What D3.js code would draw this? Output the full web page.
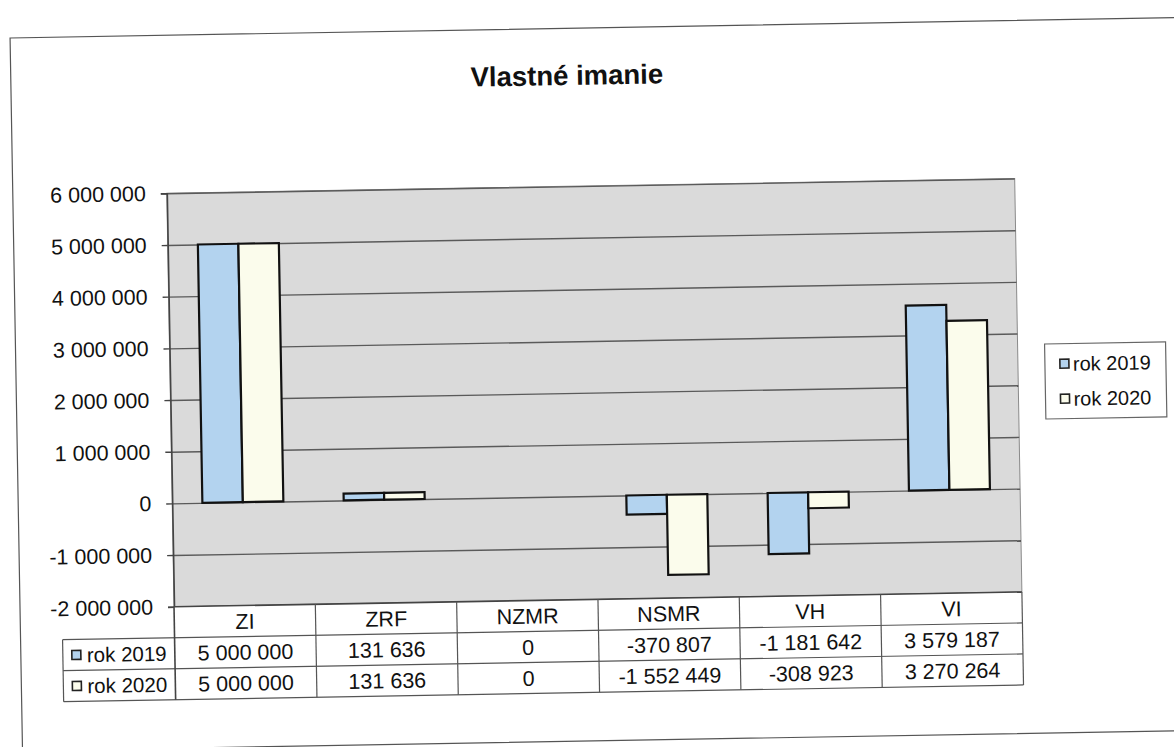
<!DOCTYPE html>
<html>
<head>
<meta charset="utf-8">
<script src="https://cdn.jsdelivr.net/npm/d3@7"></script>
<style>
  body { margin: 0; background: #fff; }
  svg { font-family: "Liberation Sans", Arial, sans-serif; }
</style>
</head>
<body>
<svg></svg>
<script>
// Vlastne imanie - grouped bars + data table under the plot (Excel-like)

var categories = ["ZI", "ZRF", "NZMR", "NSMR", "VH", "VI"];
var seriesNames = ["rok 2019", "rok 2020"];
var values2019 = [5000000, 131636, 0, -370807, -1181642, 3579187];
var values2020 = [5000000, 131636, 0, -1552449, -308923, 3270264];
var yTicks = [-2000000, -1000000, 0, 1000000, 2000000, 3000000, 4000000, 5000000, 6000000];

var colors = { "rok 2019": "#b3d3ef", "rok 2020": "#fbfcec" };

var fmt = d3.formatLocale({ decimal: ",", thousands: " ", grouping: [3], currency: ["", ""], minus: "-" }).format(",d");

document.addEventListener("DOMContentLoaded", function() {
  drawChart();
});

function drawChart() {
  var svgWidth = 1174, svgHeight = 747;
  var margin = { top: 186, left: 170 };
  var width = 848, height = 413.5;
  var rowH = 31;
  var fs = 21.5;

  var svg = d3.select("svg")
    .attr("width", svgWidth)
    .attr("height", svgHeight);

  // the scan is slightly tilted
  var root = svg.append("g")
    .attr("transform", "rotate(-1,587,373)");

  root.append("rect")
    .attr("x", 16).attr("y", 28)
    .attr("width", 1165).attr("height", 713)
    .attr("fill", "#fff")
    .attr("stroke", "#555")
    .attr("stroke-width", 1.2);

  root.append("text")
    .attr("x", 572).attr("y", 75)
    .attr("dy", "0.35em")
    .attr("text-anchor", "middle")
    .attr("font-size", 27.5)
    .attr("font-weight", "bold")
    .attr("fill", "#111")
    .text("Vlastné imanie");

  var g = root.append("g")
    .attr("transform", "translate(" + margin.left + "," + margin.top + ")");

  var y = d3.scaleLinear().domain([-2000000, 6000000]).range([height, 0]);
  var xCol = d3.scaleBand().domain(categories).range([0, width]);
  var x0 = d3.scaleBand().domain(categories).range([0, width]).paddingInner(0.427).paddingOuter(0.2135);
  var x1 = d3.scaleBand().domain(seriesNames).range([0, x0.bandwidth()]);

  g.append("rect")
    .attr("width", width).attr("height", height)
    .attr("fill", "#dadada")
    .attr("stroke", "#8a8a8a")
    .attr("stroke-width", 1);

  // gridlines
  g.append("g")
    .attr("class", "grid")
    .call(d3.axisLeft(y).tickValues(yTicks).tickSize(-width).tickFormat(""))
    .call(function(s) { s.select(".domain").remove(); })
    .selectAll("line")
    .attr("stroke", "#5a5a5a")
    .attr("stroke-width", 1.4);

  var yAxis = g.append("g")
    .call(d3.axisLeft(y).tickValues(yTicks).tickSize(6).tickPadding(15).tickFormat(fmt));
  yAxis.select(".domain").attr("stroke", "#444").attr("stroke-width", 1.6);
  yAxis.selectAll("line").attr("stroke", "#444").attr("stroke-width", 1.4);
  yAxis.selectAll("text")
    .attr("font-size", fs)
    .attr("fill", "#111")
    .attr("font-family", "Liberation Sans, Arial, sans-serif");

  var data = categories.map(function(c, i) {
    return { cat: c, vals: [
      { name: "rok 2019", value: values2019[i] },
      { name: "rok 2020", value: values2020[i] }
    ] };
  });

  var groups = g.selectAll(".grp")
    .data(data)
    .enter().append("g")
    .attr("transform", function(d) { return "translate(" + x0(d.cat) + ",0)"; });

  groups.selectAll("rect")
    .data(function(d) { return d.vals.filter(function(v) { return v.value !== 0; }); })
    .enter().append("rect")
    .attr("x", function(d) { return x1(d.name); })
    .attr("width", x1.bandwidth())
    .attr("y", function(d) { return y(Math.max(0, d.value)); })
    .attr("height", function(d) { return Math.abs(y(d.value) - y(0)); })
    .attr("fill", function(d) { return colors[d.name]; })
    .attr("stroke", "#111")
    .attr("stroke-width", 2.2);

  // data table
  var t = g.append("g").attr("transform", "translate(0," + height + ")");
  var tableLeft = -112;
  var lineColor = "#555";

  t.append("rect")
    .attr("x", 0).attr("y", 0)
    .attr("width", width).attr("height", rowH * 3)
    .attr("fill", "#fff");
  t.append("rect")
    .attr("x", tableLeft).attr("y", rowH)
    .attr("width", -tableLeft).attr("height", rowH * 2)
    .attr("fill", "#fff");

  [rowH, rowH * 2, rowH * 3].forEach(function(yy) {
    t.append("line")
      .attr("x1", tableLeft).attr("x2", width)
      .attr("y1", yy).attr("y2", yy)
      .attr("stroke", lineColor).attr("stroke-width", 1.2);
  });
  t.append("line")
    .attr("x1", 0).attr("x2", width).attr("y1", 0).attr("y2", 0)
    .attr("stroke", "#444").attr("stroke-width", 1.6);

  categories.forEach(function(c) {
    t.append("line")
      .attr("x1", xCol(c) + xCol.bandwidth()).attr("x2", xCol(c) + xCol.bandwidth())
      .attr("y1", 0).attr("y2", rowH * 3)
      .attr("stroke", lineColor).attr("stroke-width", 1.2);
  });
  t.append("line")
    .attr("x1", 0).attr("x2", 0).attr("y1", 0).attr("y2", rowH * 3)
    .attr("stroke", "#444").attr("stroke-width", 1.6);
  t.append("line")
    .attr("x1", tableLeft).attr("x2", tableLeft).attr("y1", rowH).attr("y2", rowH * 3)
    .attr("stroke", lineColor).attr("stroke-width", 1.2);

  t.selectAll(".hdr")
    .data(categories)
    .enter().append("text")
    .attr("x", function(d) { return xCol(d) + xCol.bandwidth() / 2; })
    .attr("y", rowH / 2)
    .attr("dy", "0.36em")
    .attr("text-anchor", "middle")
    .attr("font-size", fs)
    .attr("fill", "#111")
    .text(function(d) { return d; });

  var rows = [values2019, values2020];
  rows.forEach(function(vals, r) {
    var ry = rowH * (r + 1);
    t.append("rect")
      .attr("x", tableLeft + 9).attr("y", ry + rowH / 2 - 4.5)
      .attr("width", 9).attr("height", 9)
      .attr("fill", colors[seriesNames[r]])
      .attr("stroke", "#222").attr("stroke-width", 1.6);
    t.append("text")
      .attr("x", tableLeft + 24).attr("y", ry + rowH / 2)
      .attr("dy", "0.36em")
      .attr("font-size", 20.5)
      .attr("fill", "#111")
      .text(seriesNames[r]);
    t.selectAll(".v" + r)
      .data(vals)
      .enter().append("text")
      .attr("x", function(d, i) { return xCol(categories[i]) + xCol.bandwidth() / 2; })
      .attr("y", ry + rowH / 2)
      .attr("dy", "0.36em")
      .attr("text-anchor", "middle")
      .attr("font-size", fs)
      .attr("fill", "#111")
      .text(function(d) { return fmt(d); });
  });

  // legend
  var lg = root.append("g").attr("transform", "translate(1045,352)");
  lg.append("rect")
    .attr("width", 121).attr("height", 75)
    .attr("fill", "#fff")
    .attr("stroke", "#666").attr("stroke-width", 1.2);
  seriesNames.forEach(function(name, i) {
    lg.append("rect")
      .attr("x", 15).attr("y", 20 + i * 35 - 4.5)
      .attr("width", 9).attr("height", 9)
      .attr("fill", colors[name])
      .attr("stroke", "#222").attr("stroke-width", 1.6);
    lg.append("text")
      .attr("x", 28).attr("y", 20 + i * 35)
      .attr("dy", "0.36em")
      .attr("font-size", 20)
      .attr("fill", "#111")
      .text(name);
  });
}
</script>
</body>
</html>
